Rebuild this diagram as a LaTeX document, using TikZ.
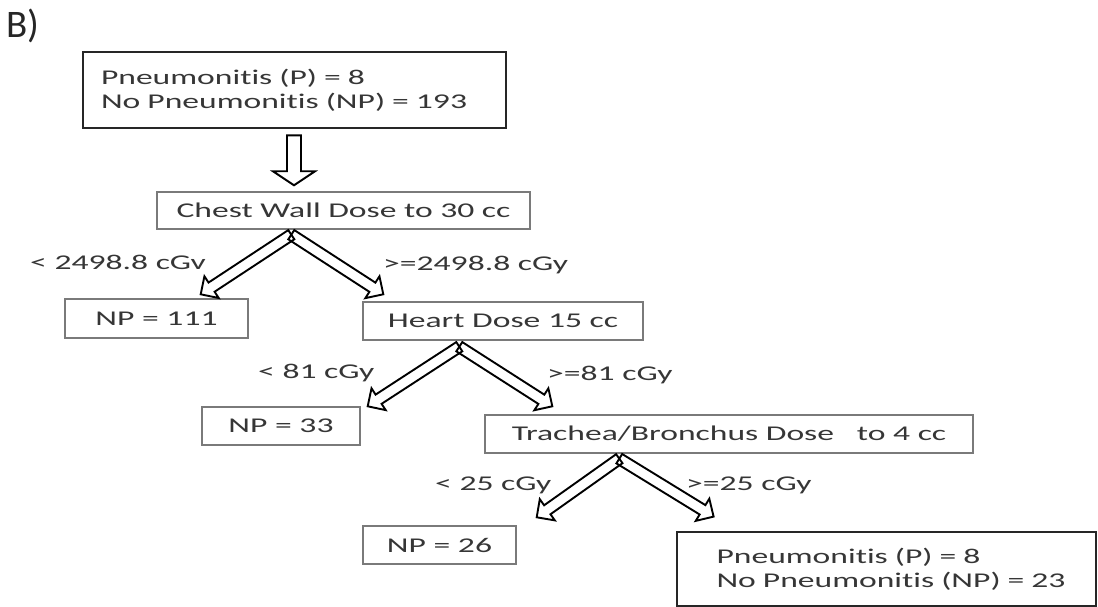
\documentclass[tikz,border=0pt]{standalone}
\usepackage{fontspec}
\setmainfont{Carlito}[FakeStretch=1.6, RawFeature={-liga;-dlig;-clig}]
\newfontfamily\plainfont{Carlito}
\usetikzlibrary{calc}
\definecolor{txt}{HTML}{363636}
\definecolor{boxline}{HTML}{7A7A7A}
\tikzset{
  every node/.style={text=txt, font=\fontsize{21}{24}\selectfont},
  plainbox/.style={draw=boxline, line width=1.4pt, inner sep=0pt},
  thickbox/.style={draw=black!85, line width=2.8pt, inner sep=0pt, align=left},
  lbl/.style={anchor=base west, inner sep=0pt},
  harrow/.style={draw=black, line width=1.9pt, line join=miter, fill=none},
}
% hollow arrow: start, end, shaft half width, head half width, head length
\newcommand{\hollowarrow}[5]{%
  \coordinate (hb) at ($(#2)!#5!(#1)$);
  \draw[harrow] ($(#1)!#3!90:(#2)$) -- ($(hb)!#3!90:(#2)$) -- ($(hb)!#4!90:(#2)$)
     -- (#2) -- ($(hb)!#4!-90:(#2)$) -- ($(hb)!#3!-90:(#2)$) -- ($(#1)!#3!-90:(#2)$) -- cycle;}
\begin{document}
\begin{tikzpicture}[x=1pt,y=-1pt]
\useasboundingbox (0,0) rectangle (1098,607);
\node[anchor=base west, inner sep=0pt, font=\plainfont\fontsize{39}{42}\selectfont, text=black!85] (lab) at (6,38) {B)};

\node[thickbox, minimum width=423pt, minimum height=76pt, text width=387pt] (top) at (294.5,90)
  {Pneumonitis (P) = 8\\No Pneumonitis (NP) = 193};
\node[plainbox, minimum width=373pt, minimum height=37pt] (cw) at (343.5,210.5) {Chest Wall Dose to 30 cc};
\node[plainbox, minimum width=183pt, minimum height=39pt] (np111) at (156.5,318.5) {NP = 111};
\node[plainbox, minimum width=280pt, minimum height=38pt] (heart) at (503,321) {Heart Dose 15 cc};
\node[plainbox, minimum width=158pt, minimum height=38pt] (np33) at (281,426) {NP = 33};
\node[plainbox, minimum width=488pt, minimum height=38pt] (tb) at (729,434) {Trachea/Bronchus Dose\ \ \ to 4 cc};
\node[plainbox, minimum width=153pt, minimum height=38pt] (np26) at (439.5,545) {NP = 26};
\node[thickbox, minimum width=419pt, minimum height=74pt, text width=400pt] (fin) at (886.5,569)
  {\hspace*{30pt}Pneumonitis (P) = 8\\\hspace*{30pt}No Pneumonitis (NP) = 23};

% labels
\node[lbl] (l1) at (30,269) {< 2498.8 cGv};
\node[lbl] (r1) at (383,270) {>=2498.8 cGy};
\node[lbl] (l2) at (258,378) {< 81 cGy};
\node[lbl] (r2) at (547,380) {>=81 cGy};
\node[lbl] (l3) at (435,490) {< 25 cGy};
\node[lbl] (r3) at (686,490) {>=25 cGy};

% connector coordinates
\coordinate (d0) at ($(top.south)+(-0.5,6)$);
\coordinate (d1) at ($(cw.north)+(-49.5,-6)$);
\coordinate (a1) at ($(cw.south west)+(135,5)$);
\coordinate (a1l) at ($(np111.north east)+(-48,-4)$);
\coordinate (a1r) at ($(heart.north west)+(21,-7)$);
\coordinate (a2) at ($(heart.south west)+(97,6)$);
\coordinate (a2l) at ($(np33.north east)+(7,0)$);
\coordinate (a2r) at ($(tb.north west)+(68,-8)$);
\coordinate (a3) at ($(tb.south west)+(135,5)$);
\coordinate (a3l) at ($(np26.north east)+(20,-8)$);
\coordinate (a3r) at ($(fin.north west)+(38,-14)$);

\hollowarrow{d0}{d1}{7pt}{21pt}{14pt}
\hollowarrow{a1}{a1l}{5.5pt}{13pt}{13pt}
\hollowarrow{a1}{a1r}{5.5pt}{13pt}{13pt}
\hollowarrow{a2}{a2l}{5.5pt}{13pt}{13pt}
\hollowarrow{a2}{a2r}{5.5pt}{13pt}{13pt}
\hollowarrow{a3}{a3l}{5.5pt}{13pt}{13pt}
\hollowarrow{a3}{a3r}{5.5pt}{13pt}{13pt}
\end{tikzpicture}
\end{document}
